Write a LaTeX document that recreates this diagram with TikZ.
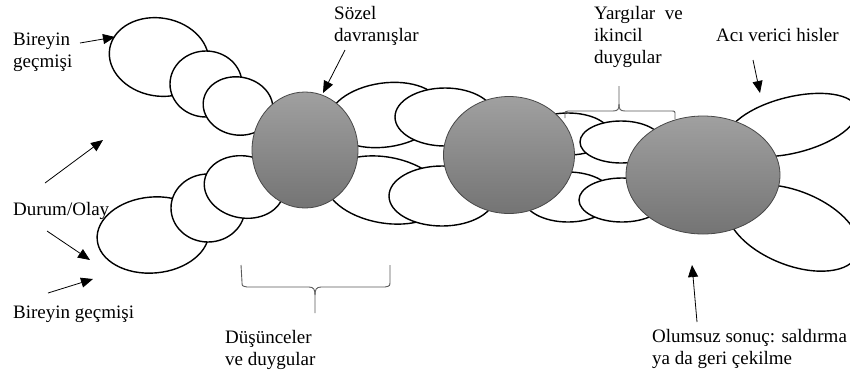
\documentclass[tikz,border=0pt]{standalone}
\usepackage{fontspec}
\setmainfont{Liberation Serif}
\usetikzlibrary{shapes.geometric,arrows.meta}
\definecolor{gtop}{RGB}{160,160,160}
\definecolor{gbot}{RGB}{116,116,116}
\definecolor{gedge}{RGB}{72,72,72}
\definecolor{brcol}{RGB}{90,90,90}
\tikzset{
  wl/.style={ellipse, draw=black, line width=1.4pt, fill=white, inner sep=0pt, outer sep=0pt},
  gc/.style={ellipse, draw=gedge, line width=0.8pt, top color=gtop, bottom color=gbot, inner sep=0pt, outer sep=0pt},
  lbl/.style={inner sep=0pt, anchor=base west, font=\fontsize{19}{22}\selectfont},
  arr/.style={line width=0.8pt, -{Triangle[length=12pt,width=10pt]}},
  brc/.style={draw=brcol, line width=0.9pt},
}
\begin{document}
\begin{tikzpicture}[x=1pt,y=-1pt]
\path[use as bounding box, fill=white] (0,0) rectangle (850,373);
\clip (0,0) rectangle (850,373);
% upper left chain
\node[wl, minimum width=100pt, minimum height=78pt, rotate=-10] (e1) at (159,57) {};
\node[wl, minimum width=72pt, minimum height=66pt] (e2) at (206,84) {};
\node[wl, minimum width=70pt, minimum height=58pt, rotate=-10] (e3) at (238,106) {};
% lower left chain
\node[wl, minimum width=112pt, minimum height=76pt, rotate=5] (e8) at (153,235) {};
\node[wl, minimum width=74pt, minimum height=68pt] (e7) at (208,208) {};
\node[wl, minimum width=80pt, minimum height=62pt, rotate=-10] (e6) at (244,187) {};
% middle
\node[wl, minimum width=114pt, minimum height=64pt, rotate=8] (e4) at (385,115) {};
\node[wl, minimum width=100pt, minimum height=58pt] (e5) at (445,117) {};
\node[wl, minimum width=120pt, minimum height=66pt, rotate=-10] (e9) at (385,190) {};
\node[wl, minimum width=106pt, minimum height=60pt] (e10) at (442,196) {};
% right of c2
\node[wl, minimum width=84pt, minimum height=42pt] (e11) at (568,134) {};
\node[wl, minimum width=82pt, minimum height=42pt] (e12) at (621,142) {};
\node[wl, minimum width=90pt, minimum height=50pt] (e13) at (568,197) {};
\node[wl, minimum width=86pt, minimum height=44pt] (e14) at (622,200) {};
% right petals
\node[wl, minimum width=134pt, minimum height=56pt, rotate=14] (e15) at (792,125) {};
\node[wl, minimum width=140pt, minimum height=74pt, rotate=-22] (e16) at (793,228) {};
% grey circles
\node[gc, minimum width=106pt, minimum height=116pt] (c1) at (305,150) {};
\node[gc, minimum width=131pt, minimum height=117pt] (c2) at (509,155) {};
\node[gc, minimum width=154pt, minimum height=118pt] (c3) at (703,175) {};
% braces
\draw[brc] (565,118) -- (565,114) .. controls (565,111.5) .. (568,111) -- (613,111) .. controls (618,111) and (619,109) .. (619,104) -- (619,86);
\draw[brc] (619,104) .. controls (619,109) and (620,111) .. (625,111) -- (671,111) .. controls (675,111) .. (675,115) -- (675,119);
\draw[brc] (241,265) -- (242,282) .. controls (242,286) .. (247,287) -- (309,287) .. controls (314,287) and (315,290) .. (315,295) -- (315,313);
\draw[brc] (315,295) .. controls (315,290) and (316,287) .. (321,287) -- (385,287) .. controls (390,286) .. (390,281) -- (390,265);
% labels
\node[lbl] (bir1) at (13,45) {\begin{tabular}[t]{@{}l@{}}Bireyin\\geçmişi\end{tabular}};
\node[lbl] (durum) at (13,215) {Durum/Olay};
\node[lbl] (bir2) at (13,318) {Bireyin geçmişi};
\node[lbl] (sozel) at (334,19) {\begin{tabular}[t]{@{}l@{}}Sözel\\davranışlar\end{tabular}};
\node[lbl] (yarg) at (594,19) {\begin{tabular}[t]{@{}l@{}}Yargılar\hspace{0.5em}ve\\ikincil\\duygular\end{tabular}};
\node[lbl] (aci) at (716,41) {Acı verici hisler};
\node[lbl] (dus) at (225,343) {\begin{tabular}[t]{@{}l@{}}Düşünceler\\ve duygular\end{tabular}};
\node[lbl] (olum) at (652,342) {\begin{tabular}[t]{@{}l@{}}Olumsuz sonuç: saldırma\\ya da geri çekilme\end{tabular}};
% arrows
\coordinate (a1s) at (80,43);  \coordinate (a1e) at (115,37);
\coordinate (a2s) at (45,183); \coordinate (a2e) at (103,140);
\coordinate (a3s) at (47,231); \coordinate (a3e) at (90,260);
\coordinate (a4s) at (48,293); \coordinate (a4e) at (93,279);
\coordinate (a5s) at (345,50); \coordinate (a5e) at (323,93);
\coordinate (a6s) at (753,60); \coordinate (a6e) at (760,93);
\coordinate (a7s) at (697,322); \coordinate (a7e) at (692,265);
\draw[arr] (a1s) -- (a1e);
\draw[arr] (a2s) -- (a2e);
\draw[arr] (a3s) -- (a3e);
\draw[arr] (a4s) -- (a4e);
\draw[arr] (a5s) -- (a5e);
\draw[arr] (a6s) -- (a6e);
\draw[arr] (a7s) -- (a7e);
\end{tikzpicture}
\end{document}
